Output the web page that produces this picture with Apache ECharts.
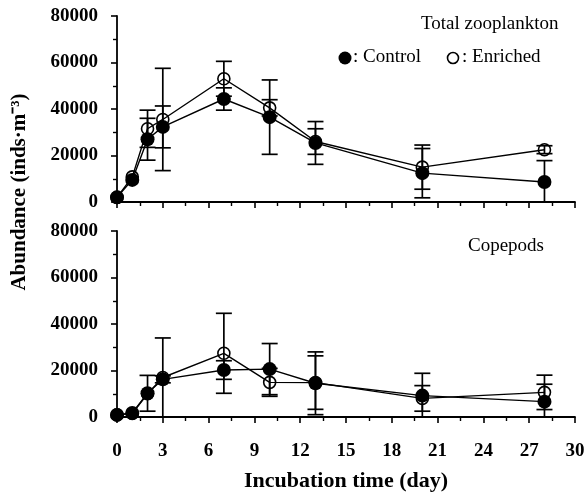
<!DOCTYPE html>
<html>
<head>
<meta charset="utf-8">
<script src="https://cdn.jsdelivr.net/npm/echarts@6/dist/echarts.min.js"></script>
<style>html,body{margin:0;padding:0;background:#fff}#c{width:588px;height:499px}</style>
</head>
<body>
<div id="c"></div>
<script>
const days = [0, 1, 2, 3, 7, 10, 13, 20, 28];
const totalControl = [2000, 9500, 27000, 32300, 44300, 36500, 25400, 12400, 8600];
const totalControlErr = [0, 0, 9000, 9000, 4800, 16000, 9200, 10600, 9200];
const totalEnriched = [2000, 10800, 31500, 35500, 53000, 40500, 26000, 15000, 22500];
const totalEnrichedErr = [0, 0, 8000, 22000, 7500, 3500, 5500, 9500, 1700];
const copControl = [900, 1700, 10200, 16200, 20200, 20600, 14500, 9200, 6600];
const copControlErr = [0, 0, 7700, 1500, 4000, 11000, 13500, 9600, 7500];
const copEnriched = [900, 1500, 10000, 17000, 27400, 14900, 14800, 8000, 10600];
const copEnrichedErr = [0, 0, 0, 17000, 17200, 6000, 11500, 5500, 7400];
const xTicks = [0, 3, 6, 9, 12, 15, 18, 21, 24, 27, 30];
const yTicks = [0, 20000, 40000, 60000, 80000];

const FONT = '"Liberation Serif", "Times New Roman", serif';

function pts(v) { return days.map((d, i) => [d, v[i]]); }
function errs(v, e) { return days.map((d, i) => [d, v[i] - e[i], v[i] + e[i], e[i]]); }

function errSeries(v, e, idx) {
  return {
    type: 'custom', xAxisIndex: idx, yAxisIndex: idx, clip: true, z: 3,
    data: errs(v, e),
    renderItem: function (params, api) {
      if (api.value(3) <= 0) return null;
      const lo = api.coord([api.value(0), api.value(1)]);
      const hi = api.coord([api.value(0), api.value(2)]);
      const w = 8;
      const st = { stroke: '#000', lineWidth: 1.7 };
      return {
        type: 'group',
        children: [
          { type: 'line', shape: { x1: lo[0], y1: lo[1], x2: hi[0], y2: hi[1] }, style: st },
          { type: 'line', shape: { x1: hi[0] - w, y1: hi[1], x2: hi[0] + w, y2: hi[1] }, style: st },
          { type: 'line', shape: { x1: lo[0] - w, y1: lo[1], x2: lo[0] + w, y2: lo[1] }, style: st }
        ]
      };
    }
  };
}

function lineSeries(v, idx, filled) {
  return {
    type: 'line', xAxisIndex: idx, yAxisIndex: idx, data: pts(v),
    symbol: 'circle', symbolSize: filled ? 14 : 12, z: filled ? 5 : 4,
    lineStyle: { color: '#000', width: 1.4 },
    itemStyle: filled ? { color: '#000', borderColor: '#000', borderWidth: 0 }
                      : { color: 'rgba(255,255,255,0)', borderColor: '#000', borderWidth: 1.6 },
    emphasis: { disabled: true }, animation: false
  };
}

function xAxis(idx, showLabels) {
  return {
    type: 'value', gridIndex: idx, min: 0, max: 30, interval: 3,
    axisLine: { lineStyle: { color: '#000', width: 1.8 } },
    axisTick: { show: true, length: 6, lineStyle: { color: '#000', width: 1.6 } },
    minorTick: { show: true, splitNumber: 2, length: 4, lineStyle: { color: '#000', width: 1.4 } },
    splitLine: { show: false },
    axisLabel: { show: showLabels, color: '#000', fontFamily: FONT, fontWeight: 'bold', fontSize: 19, margin: 25,
      customValues: xTicks },
    name: showLabels ? 'Incubation time (day)' : '',
    nameLocation: 'middle', nameGap: 53,
    nameTextStyle: { color: '#000', fontFamily: FONT, fontWeight: 'bold', fontSize: 22 }
  };
}

function yAxis(idx) {
  return {
    type: 'value', gridIndex: idx, min: 0, max: 80000, interval: 20000,
    axisLine: { show: true, lineStyle: { color: '#000', width: 1.8 } },
    axisTick: { show: true, length: 6, lineStyle: { color: '#000', width: 1.6 } },
    minorTick: { show: true, splitNumber: 2, length: 4, lineStyle: { color: '#000', width: 1.4 } },
    splitLine: { show: false },
    axisLabel: { color: '#000', fontFamily: FONT, fontWeight: 'bold', fontSize: 19, margin: 19,
      customValues: yTicks, formatter: function (v) { return String(v); } }
  };
}

const chart = echarts.init(document.getElementById('c'), null, { renderer: 'canvas' });
chart.setOption({
  backgroundColor: '#fff',
  animation: false,
  grid: [
    { left: 117, right: 13, top: 16, height: 186 },
    { left: 117, right: 13, top: 231, height: 186 }
  ],
  xAxis: [xAxis(0, false), xAxis(1, true)],
  yAxis: [yAxis(0), yAxis(1)],
  series: [
    errSeries(totalEnriched, totalEnrichedErr, 0),
    errSeries(totalControl, totalControlErr, 0),
    lineSeries(totalEnriched, 0, false),
    lineSeries(totalControl, 0, true),
    errSeries(copEnriched, copEnrichedErr, 1),
    errSeries(copControl, copControlErr, 1),
    lineSeries(copEnriched, 1, false),
    lineSeries(copControl, 1, true)
  ],
  graphic: [
    { type: 'text', left: 421, top: 15, style: { text: 'Total zooplankton', font: '19px ' + FONT, fill: '#000' } },
    { type: 'circle', shape: { cx: 345, cy: 58, r: 6.5 }, style: { fill: '#000' } },
    { type: 'text', left: 353, top: 48, style: { text: ': Control', font: '19px ' + FONT, fill: '#000' } },
    { type: 'circle', shape: { cx: 453, cy: 58, r: 5.5 }, style: { fill: 'none', stroke: '#000', lineWidth: 1.6 } },
    { type: 'text', left: 462, top: 48, style: { text: ': Enriched', font: '19px ' + FONT, fill: '#000' } },
    { type: 'text', left: 468, top: 237, style: { text: 'Copepods', font: '19px ' + FONT, fill: '#000' } },
    { type: 'text', x: 20, y: 192, rotation: Math.PI / 2,
      style: { text: 'Abundance (inds·m⁻³)', font: 'bold 21px ' + FONT, fill: '#000', align: 'center', verticalAlign: 'middle' } }
  ]
});
</script>
</body>
</html>
